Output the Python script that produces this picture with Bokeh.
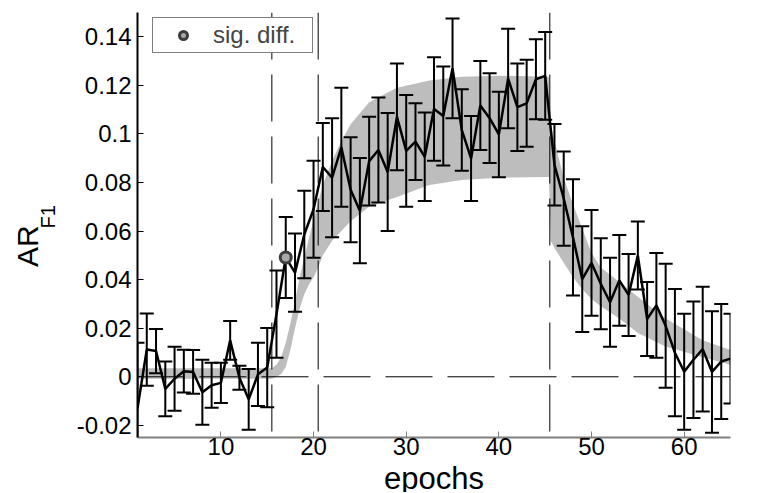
import math
from bokeh.plotting import figure
from bokeh.layouts import row, column
from bokeh.models import (Range1d, FixedTicker, CustomJSTickFormatter, Span,
                          Legend, LegendItem, ColumnDataSource)
from bokeh.core.properties import value
from bokeh.embed import file_html
from bokeh.resources import INLINE

FONT = "Liberation Sans"

# ---------------- data ----------------
epochs = list(range(1, 66))
mean_ar = [-0.013, 0.0112, 0.0106, -0.005, -0.0008, 0.0023, 0.002, -0.0064, -0.0035, -0.0025,
           0.015, -0.0004, -0.0093, 0.001, 0.0038, 0.0258, 0.0491, 0.0429, 0.0586, 0.069,
           0.0864, 0.082, 0.0945, 0.077, 0.0684, 0.0888, 0.0934, 0.0843, 0.107, 0.093,
           0.0968, 0.0906, 0.1103, 0.1074, 0.127, 0.1016, 0.0899, 0.1117, 0.1065, 0.0998,
           0.1228, 0.111, 0.1126, 0.1225, 0.1239, 0.0873, 0.0734, 0.0574, 0.0402, 0.0469,
           0.0383, 0.0307, 0.0397, 0.0337, 0.0499, 0.0238, 0.0294, 0.021, 0.0099, 0.0021,
           0.007, 0.0114, 0.002, 0.0063, 0.0075]
err_ar = [0.027, 0.0149, 0.0091, 0.0113, 0.0132, 0.0088, 0.009, 0.0134, 0.0093, 0.0083,
          0.008, 0.0049, 0.0125, 0.013, 0.0163, 0.018, 0.0167, 0.0161, 0.018, 0.020,
          0.0181, 0.0245, 0.0245, 0.0216, 0.0217, 0.0183, 0.0216, 0.0243, 0.022, 0.023,
          0.0158, 0.0182, 0.0213, 0.0204, 0.0205, 0.0168, 0.0175, 0.0183, 0.0185, 0.0176,
          0.0205, 0.018, 0.0179, 0.0165, 0.0181, 0.0168, 0.0194, 0.0239, 0.0218, 0.0218,
          0.0187, 0.0183, 0.0187, 0.0169, 0.014, 0.0152, 0.0216, 0.0255, 0.0262, 0.0239,
          0.024, 0.0257, 0.025, 0.0237, 0.0185]

# model envelope (grey band)
band_x = [1, 15.5, 16, 16.5, 17, 17.5, 18, 18.5, 19, 19.5, 20, 20.5, 21, 22, 23, 24, 26, 29,
          32.5, 36, 40, 45.4, 45.6, 46, 47, 48, 49, 50, 51, 53, 55, 58, 62, 65]
band_hi = [0.0035, 0.0035, 0.005, 0.008, 0.014, 0.022, 0.031, 0.041, 0.049, 0.057, 0.0646,
           0.072, 0.079, 0.089, 0.097, 0.104, 0.113, 0.119, 0.122, 0.1235, 0.124, 0.1235,
           0.104, 0.097, 0.082, 0.071, 0.061, 0.051, 0.045, 0.039, 0.033, 0.024, 0.015, 0.011]
band_lo = [-0.0008, -0.0008, 0.0, 0.001, 0.004, 0.011, 0.02, 0.028, 0.034, 0.038, 0.041,
           0.045, 0.050, 0.056, 0.060, 0.064, 0.070, 0.074, 0.079, 0.081, 0.082, 0.0823,
           0.056, 0.053, 0.047, 0.041, 0.036, 0.032, 0.029, 0.024, 0.018, 0.0125, 0.008, 0.005]

sig_x = [17]
sig_y = [0.0491]

stage_bounds = [15.5, 20.5, 45.5]

x_ticks = [10, 20, 30, 40, 50, 60]
y_ticks = [-0.02, 0, 0.02, 0.04, 0.06, 0.08, 0.1, 0.12, 0.14]
y_tick_labels = ["-0.02", "0", "0.02", "0.04", "0.06", "0.08", "0.1", "0.12", "0.14"]

x_title = "epochs"
y_title_main = "AR"
y_title_sub = "F1"

W = 760
H_TOP = 464          # height of the row holding the plot
H_BOT = 28           # strip holding the x title
LEFT_W = 72
H_ALL = H_TOP + H_BOT


def blank(width, height):
    f = figure(width=width, height=height, output_backend="svg", toolbar_location=None,
               x_range=Range1d(0, width), y_range=Range1d(0, height),
               x_axis_type=None, y_axis_type=None,
               min_border_left=0, min_border_right=0, min_border_top=0, min_border_bottom=0)
    f.grid.visible = False
    f.outline_line_color = None
    f.background_fill_color = "white"
    f.border_fill_color = "white"
    return f


# ---------------- left strip holding the y title ----------------
lab = blank(LEFT_W, H_TOP)
lab.text(x=[27], y=[H_TOP - 255], text=[y_title_main], angle=math.pi / 2,
         text_font=value(FONT), text_font_size="30px", text_align="center",
         text_baseline="middle", text_color="black")
lab.text(x=[47.5], y=[H_TOP - 223], text=[y_title_sub], angle=math.pi / 2,
         text_font=value(FONT), text_font_size="20px", text_align="center",
         text_baseline="middle", text_color="black")

# ---------------- bottom strip holding the x title ----------------
bot = blank(W, H_BOT)
bot.text(x=[433.5], y=[H_ALL - 478], text=[x_title], text_font=value(FONT),
         text_font_size="31px", text_align="center", text_baseline="middle",
         text_color="black")

# ---------------- main figure ----------------
p = figure(width=W - LEFT_W, height=H_TOP, output_backend="svg", toolbar_location=None,
           x_range=Range1d(1, 65), y_range=Range1d(-0.025, 0.15),
           min_border_left=137 - LEFT_W, min_border_right=30,
           min_border_top=12, min_border_bottom=H_TOP - 437)
p.xgrid.visible = False
p.ygrid.visible = False
p.outline_line_color = None
p.background_fill_color = "white"
p.border_fill_color = "white"

# grey band
p.varea(x=band_x, y1=band_lo, y2=band_hi, fill_color="#bdbdbd", fill_alpha=1.0)

# error bars
src = ColumnDataSource(dict(x=epochs, m=mean_ar,
                            hi=[m + e for m, e in zip(mean_ar, err_ar)],
                            lo=[m - e for m, e in zip(mean_ar, err_ar)]))
p.segment(x0="x", y0="lo", x1="x", y1="hi", source=src, line_color="black", line_width=2)
p.scatter(x="x", y="hi", source=src, marker="dash", size=14, line_color="black", line_width=2)
p.scatter(x="x", y="lo", source=src, marker="dash", size=14, line_color="black", line_width=2)
p.line(x="x", y="m", source=src, line_color="black", line_width=2.5)

sig = p.scatter(x=sig_x, y=sig_y, marker="circle", size=11, fill_color="#a8a8a8",
                line_color="#3c3c3c", line_width=3)
sig.level = "overlay"

# dashed reference lines
for b in stage_bounds:
    p.add_layout(Span(location=b, dimension="height", line_color="black",
                      line_width=1, line_dash="47 15"))
p.add_layout(Span(location=0, dimension="width", line_color="black",
                  line_width=1, line_dash="47 15"))

# axes
p.xaxis.ticker = FixedTicker(ticks=x_ticks)
p.yaxis.ticker = FixedTicker(ticks=y_ticks)
p.yaxis.formatter = CustomJSTickFormatter(args=dict(labels=y_tick_labels),
                                          code="return labels[index];")
for ax in (p.xaxis, p.yaxis):
    ax.major_tick_in = 6
    ax.major_tick_out = 0
    ax.minor_tick_line_color = None
    ax.major_label_text_font = FONT
    ax.major_label_text_font_size = "24px"
    ax.major_label_text_color = "black"
    ax.axis_line_width = 2
p.xaxis.axis_line_color = "#7f7f7f"
p.xaxis.major_tick_line_color = "#7f7f7f"
p.yaxis.axis_line_color = "black"
p.yaxis.major_tick_line_color = "black"
p.xaxis.major_label_standoff = 0
p.yaxis.major_label_standoff = 6

legend = Legend(items=[LegendItem(label="sig. diff.", renderers=[sig])],
                location=(15, 384), margin=0, padding=3, spacing=0,
                glyph_width=54, glyph_height=20, label_standoff=3,
                label_width=96, label_height=20,
                label_text_font=FONT, label_text_font_size="24px",
                border_line_color="black", border_line_width=1,
                background_fill_color="white", background_fill_alpha=1.0)
p.add_layout(legend)

layout = column(row(lab, p, spacing=0), bot, spacing=0)
open("out.html", "w").write(file_html(layout, INLINE))
